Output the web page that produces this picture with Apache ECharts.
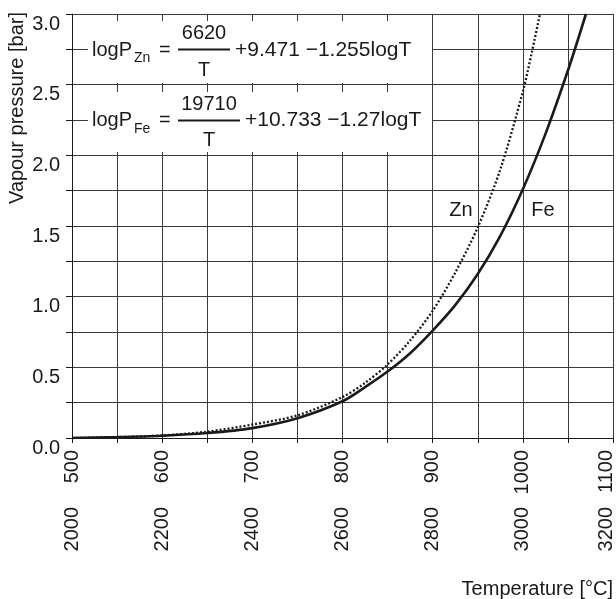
<!DOCTYPE html>
<html>
<head>
<meta charset="utf-8">
<script src="https://cdn.jsdelivr.net/npm/echarts@6/dist/echarts.min.js"></script>
<style>
  html, body { margin: 0; padding: 0; background: #fff; }
  #chart { width: 616px; height: 599px; }
</style>
</head>
<body>
<div id="chart"></div>
<script>
var chart = echarts.init(document.getElementById('chart'))

// Zn: temperature on the upper label row (°C), pressure in bar
var znTemp = [500, 550, 600, 650, 700, 750, 800, 825, 850, 875, 900, 925, 950, 975, 1000, 1010, 1019]
var znP    = [0.0, 0.006, 0.018, 0.045, 0.095, 0.16, 0.29, 0.39, 0.52, 0.69, 0.90, 1.17, 1.49, 1.90, 2.45, 2.73, 3.0]

// Fe: temperature on the lower label row (°C)
var feTemp = [2000, 2100, 2200, 2300, 2400, 2500, 2600, 2650, 2700, 2750, 2800, 2850, 2900, 2950, 3000, 3050, 3100, 3140]
var feP    = [0.0, 0.006, 0.016, 0.035, 0.07, 0.14, 0.26, 0.36, 0.47, 0.60, 0.76, 0.94, 1.16, 1.43, 1.76, 2.15, 2.60, 3.0]

var font = 'Liberation Sans, Arial, Helvetica, sans-serif'
var ink = '#1a1a1a'
var gridColor = '#3a3a3a'

function pairs(xs, ys) {
    return xs.map(function (x, i) { return [x, ys[i]] })
}

function txt(x, y, s, size, align) {
    return {
        type: 'text', x: x, y: y, z: 100,
        style: {
            text: s, font: size + 'px ' + font, fill: ink,
            textAlign: align || 'left', textVerticalAlign: 'middle'
        }
    }
}

function bar(x1, x2, y) {
    return {
        type: 'line', z: 100,
        shape: { x1: x1, y1: y, x2: x2, y2: y },
        style: { stroke: ink, lineWidth: 2 }
    }
}

// rotated labels: the last one is nudged left so it stays on the canvas
function tempLabel(step, last) {
    return function (v) {
        if (v % step !== 0) return ''
        return v === last ? '{m|' + v + '}' : String(v)
    }
}

var graphics = [
    // white boxes behind the formulas
    { type: 'rect', z: 90, shape: { x: 88, y: 21, width: 344, height: 62 }, style: { fill: '#fff' } },
    { type: 'rect', z: 90, shape: { x: 88, y: 92, width: 344, height: 60 }, style: { fill: '#fff' } },

    // logP_Zn = 6620/T + 9.471 - 1.255logT
    txt(92, 50, 'logP', 20),
    txt(134, 58, 'Zn', 14),
    txt(159, 50, '=', 20),
    txt(204, 33, '6620', 20, 'center'),
    bar(178, 230, 49.5),
    txt(204, 70, 'T', 20, 'center'),
    txt(235, 50, '+9.471 \u22121.255logT', 21),

    // logP_Fe = 19710/T + 10.733 - 1.27logT
    txt(92, 120, 'logP', 20),
    txt(134, 129, 'Fe', 14),
    txt(159, 120, '=', 20),
    txt(209, 104, '19710', 20, 'center'),
    bar(178, 240, 120.5),
    txt(209, 140, 'T', 20, 'center'),
    txt(245, 120, '+10.733 \u22121.27logT', 21),

    // curve names
    txt(461, 210, 'Zn', 20, 'center'),
    txt(543, 210, 'Fe', 20, 'center'),

    // axis names
    txt(613, 589, 'Temperature [\u00b0C]', 20, 'right'),
    {
        type: 'text', x: 17, y: 108, rotation: Math.PI / 2,
        style: {
            text: 'Vapour pressure [bar]', font: '20px ' + font, fill: ink,
            textAlign: 'center', textVerticalAlign: 'middle'
        }
    }
]

var labelRich = { m: { fontSize: 20, fontFamily: font, color: ink, padding: [0, 0, 14, 0] } }

var option = {
    backgroundColor: '#fff',
    animation: false,
    grid: { left: 72, right: 3, top: 14, bottom: 161, containLabel: false, outerBoundsMode: 'none' },
    xAxis: [{
        type: 'value', min: 500, max: 1100, interval: 50, position: 'bottom',
        axisLine: { show: true, lineStyle: { color: ink, width: 1 } },
        axisTick: { show: true, length: 5, lineStyle: { color: ink } },
        splitLine: { show: true, lineStyle: { color: gridColor, width: 1 } },
        axisLabel: {
            rotate: 90, margin: 12, fontSize: 20, fontFamily: font, color: ink,
            formatter: tempLabel(100, 1100), rich: labelRich
        }
    }, {
        type: 'value', min: 2000, max: 3200, interval: 100, position: 'bottom', offset: 57,
        axisLine: { show: false }, axisTick: { show: false }, splitLine: { show: false },
        axisLabel: {
            rotate: 90, margin: 12, fontSize: 20, fontFamily: font, color: ink,
            formatter: tempLabel(200, 3200), rich: labelRich
        }
    }],
    yAxis: {
        type: 'value', min: 0, max: 3, interval: 0.25,
        axisLine: { show: true, lineStyle: { color: ink, width: 1 } },
        axisTick: { show: true, length: 6, lineStyle: { color: ink } },
        splitLine: { show: true, lineStyle: { color: gridColor, width: 1 } },
        axisLabel: {
            margin: 12, fontSize: 20, fontFamily: font, color: ink, verticalAlign: 'top',
            formatter: function (v) { return Math.round(v * 100) % 50 === 0 ? v.toFixed(1) : '' }
        }
    },
    series: [{
        name: 'Zn', type: 'line', xAxisIndex: 0, smooth: 0.3, symbol: 'none', z: 5,
        lineStyle: { color: ink, width: 2.3, type: [2, 2] },
        data: pairs(znTemp, znP)
    }, {
        name: 'Fe', type: 'line', xAxisIndex: 1, smooth: 0.3, symbol: 'none', z: 5,
        lineStyle: { color: ink, width: 2.6 },
        data: pairs(feTemp, feP)
    }],
    graphic: graphics
}

chart.setOption(option)
</script>
</body>
</html>
